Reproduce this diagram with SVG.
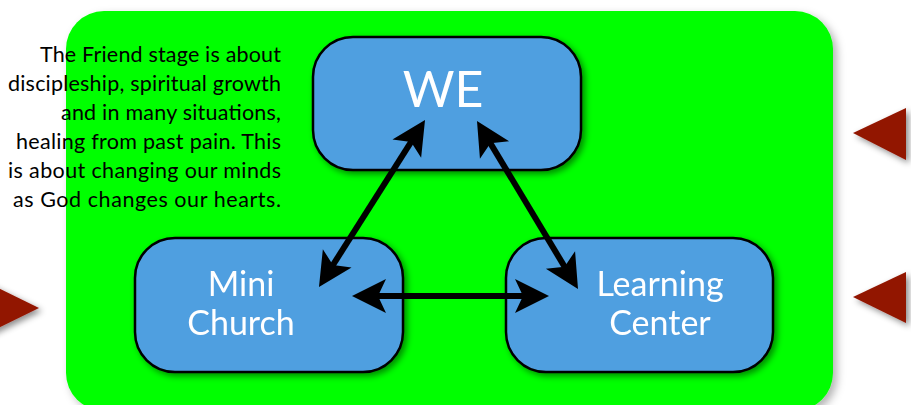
<svg xmlns="http://www.w3.org/2000/svg" width="911" height="405" viewBox="0 0 911 405">
  <defs>
    <filter id="sh" x="-10%" y="-10%" width="130%" height="130%">
      <feDropShadow dx="3" dy="3" stdDeviation="3" flood-color="#000" flood-opacity="0.45"/>
    </filter>
    <filter id="shg" x="-10%" y="-10%" width="130%" height="130%">
      <feDropShadow dx="4" dy="4" stdDeviation="4" flood-color="#000" flood-opacity="0.3"/>
    </filter>
    <marker id="ah" markerUnits="userSpaceOnUse" markerWidth="40" markerHeight="40" refX="14" refY="0" viewBox="0 -20 40 40" orient="auto-start-reverse" overflow="visible">
      <path d="M34,0 L0,-17 L8,0 L0,17 Z" fill="#000"/>
    </marker>
  </defs>
  <style>
    .node rect { fill: #509FE0; stroke: #000; stroke-width: 2.5; }
    .lbl { font-family: Lato, "Liberation Sans", sans-serif; fill: #fff; text-anchor: middle; }
    .body { font-family: Lato, "Liberation Sans", sans-serif; font-size: 21.5px; fill: #000; text-anchor: end; }
    .conn line { stroke: #000; stroke-width: 6; marker-start: url(#ah); marker-end: url(#ah); }
    .tri { fill: #921600; }
  </style>
  <rect width="911" height="405" fill="#fff"/>
  <rect x="66" y="11" width="767" height="400" rx="38" fill="#00FF00" filter="url(#shg)"/>

  <g id="triangles" filter="url(#sh)">
    <polygon class="tri" points="853,133 906,108 906,160"/>
    <polygon class="tri" points="853,297 906,272 906,323"/>
    <polygon class="tri" points="39,308 -14,282 -14,334"/>
  </g>

  <g id="description">
    <text class="body" x="281" y="62" textLength="241" lengthAdjust="spacing">The Friend stage is about</text>
    <text class="body" x="281" y="91" textLength="273" lengthAdjust="spacing">discipleship, spiritual growth</text>
    <text class="body" x="281" y="120" textLength="220" lengthAdjust="spacing">and in many situations,</text>
    <text class="body" x="281" y="149" textLength="265" lengthAdjust="spacing">healing from past pain. This</text>
    <text class="body" x="281" y="178" textLength="273" lengthAdjust="spacing">is about changing our minds</text>
    <text class="body" x="281" y="207" textLength="268" lengthAdjust="spacing">as God changes our hearts.</text>
  </g>

  <g id="node-we" class="node" filter="url(#sh)">
    <rect x="313" y="37" width="268" height="133" rx="40"/>
    <text class="lbl" x="443" y="107" font-size="50">WE</text>
  </g>
  <g id="node-mini-church" class="node" filter="url(#sh)">
    <rect x="135" y="238" width="268" height="134" rx="40"/>
    <text class="lbl" x="241" y="296" font-size="34">Mini</text>
    <text class="lbl" x="241" y="335" font-size="34">Church</text>
  </g>
  <g id="node-learning-center" class="node" filter="url(#sh)">
    <rect x="506" y="238" width="267" height="134" rx="40"/>
    <text class="lbl" x="660" y="296" font-size="34">Learning</text>
    <text class="lbl" x="660" y="335" font-size="34">Center</text>
  </g>

  <g id="connectors" class="conn">
    <line x1="414.3" y1="136.9" x2="329.7" y2="270.1"/>
    <line x1="487.3" y1="138.1" x2="567.7" y2="271.9"/>
    <line x1="372" y1="296" x2="529" y2="296"/>
  </g>
</svg>
